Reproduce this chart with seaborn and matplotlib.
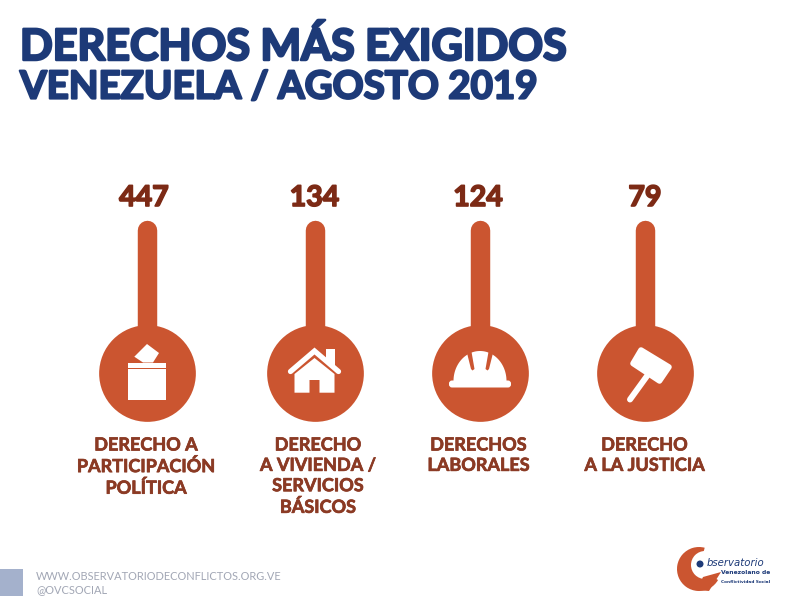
import numpy as np
import matplotlib
matplotlib.use("Agg")
import matplotlib.pyplot as plt
import matplotlib.patheffects as pe
import seaborn as sns
from matplotlib.patches import Polygon, Rectangle, FancyBboxPatch, Wedge, Circle

# data
values = [447, 134, 124, 79]
labels = [
    "DERECHO A\nPARTICIPACIÓN\nPOLÍTICA",
    "DERECHO\nA VIVIENDA /\nSERVICIOS\nBÁSICOS",
    "DERECHOS\nLABORALES",
    "DERECHO\nA LA JUSTICIA",
]
title_1 = "DERECHOS MÁS EXIGIDOS"
title_2 = "VENEZUELA / AGOSTO 2019"
footer_1 = "WWW.OBSERVATORIODECONFLICTOS.ORG.VE"
footer_2 = "@OVCSOCIAL"

NAVY = "#1d3a78"
ORANGE = "#cb5530"
BROWN = "#7c2a15"
BROWN_LIGHT = "#8b3a24"
GREY = "#a2a7b5"
FONT = "Lato"


def fat(width, color):
    # Lato has no heavy enough weight here, so thicken with a stroke
    return [pe.withStroke(linewidth=width, foreground=color)]


sns.set_theme(style="white")
plt.rcParams["font.family"] = [FONT, "DejaVu Sans"]

# the whole figure is one axes in pixel coordinates
fig = plt.figure(figsize=(7.93, 6.13), dpi=100)
ax = fig.add_axes([0, 0, 1, 1])
ax.set_xlim(0, 793)
ax.set_ylim(613, 0)
ax.axis("off")

centers = [147, 314.5, 480, 644.5]
label_x = [146, 318, 478.5, 644.5]
value_x = [144, 314.5, 478, 645]
cy = 373

# stems are all the same length in the original, not scaled by value
for cx in centers:
    sns.lineplot(x=[cx, cx], y=[230, cy], color=ORANGE, lw=14, ax=ax,
                 solid_capstyle="round", errorbar=None, estimator=None, sort=False)
sns.scatterplot(x=centers, y=[cy] * 4, s=4850, color=ORANGE, linewidth=0, ax=ax, zorder=3)

for val, lab, vx, lx in zip(values, labels, value_x, label_x):
    ax.text(vx, 206, str(val), color=BROWN, fontsize=20.5, fontweight="bold",
            ha="center", va="baseline", path_effects=fat(1.2, BROWN))
    ax.text(lx, 436.5, lab, color=BROWN_LIGHT, fontsize=13, fontweight="bold", ha="center", va="top",
            linespacing=1.24, path_effects=fat(0.5, BROWN_LIGHT))

ax.text(20, 60, title_1, color=NAVY, fontsize=31, fontweight="bold", va="baseline",
        path_effects=fat(1.8, NAVY))
ax.text(20, 98.5, title_2, color=NAVY, fontsize=27.7, fontweight="bold", va="baseline",
        path_effects=fat(1.6, NAVY))

kw = dict(color="white", lw=0, zorder=5)

# ballot box
ax.add_patch(Rectangle((128, 369), 38, 31, **kw))
ax.add_patch(Rectangle((128, 363), 38, 4.5, **kw))
ax.add_patch(Polygon([(147, 344), (159, 353), (153, 362.5), (143, 362.5), (134.3, 356.7)], **kw))

# house
x0 = centers[1]
ax.add_patch(Polygon([(x0 + 11.5, 349), (x0 + 20.5, 349), (x0 + 20.5, 367), (x0 + 11.5, 359)], **kw))
ax.plot([x0 - 24, x0, x0 + 24], [371.5, 351, 371.5], color="white", lw=3.8, solid_capstyle="round",
        solid_joinstyle="miter", zorder=5)
ax.add_patch(Polygon([(x0 - 20, 374), (x0, 358), (x0 + 20, 374), (x0 + 20, 392.7), (x0 + 5, 392.7), (x0 + 5, 380),
                      (x0 - 5, 380), (x0 - 5, 392.7), (x0 - 20, 392.7)], **kw))

# helmet
x0 = 480
t = np.linspace(np.pi, 2 * np.pi, 60)
ax.add_patch(Polygon(np.column_stack([x0 + 26.5 * np.cos(t), 381 + 30 * np.sin(t)]), **kw))
ax.add_patch(FancyBboxPatch((x0 - 31, 380.5), 62, 7, boxstyle="round,pad=0,rounding_size=3", **kw))
notch = dict(color=ORANGE, lw=0, zorder=6)
ax.add_patch(Polygon([(x0 - 14, 349), (x0 - 9, 349), (x0 - 5.5, 369), (x0 - 7.5, 370.5), (x0 - 9, 369)], **notch))
ax.add_patch(Polygon([(x0 + 14, 349), (x0 + 9, 349), (x0 + 5.5, 369), (x0 + 7.5, 370.5), (x0 + 9, 369)], **notch))

# gavel
ax.plot([647, 630], [376, 399.5], color="white", lw=4.3, solid_capstyle="round", zorder=5)
ax.add_patch(Polygon([(641, 350), (669, 367), (659.5, 381), (633, 363.5)], facecolor="white", edgecolor="white",
                     lw=4, joinstyle="round", zorder=5))

# footer
ax.add_patch(Rectangle((0, 569), 23, 27, color="#a4b1cc", lw=0))
ax.text(36, 576, footer_1, color=GREY, fontsize=7.95, va="center")
ax.text(36, 590, footer_2, color=GREY, fontsize=7.95, va="center")

# logo
ax.add_patch(Wedge((699, 569), 22, 30, 285, color=ORANGE, lw=0))
ax.add_patch(Circle((705, 565), 14, color="white", lw=0))
ax.add_patch(Polygon([(703, 577), (721, 572), (709, 591), (697, 590)], color=ORANGE, lw=0))
ax.add_patch(Circle((700, 564), 3.5, color=NAVY, lw=0))
ax.text(707, 563, "bservatorio", color=NAVY, fontsize=7.3, style="italic", va="center",
        family="DejaVu Sans")
ax.text(721, 572.7, "Venezolano de", color=NAVY, fontsize=4.3, fontweight="bold", va="center", family="DejaVu Sans")
ax.text(721, 581.7, "Conflictividad Social", color=NAVY, fontsize=3.1, fontweight="bold", va="center",
        family="DejaVu Sans")

fig.savefig("out.png", dpi=100, facecolor="white")
